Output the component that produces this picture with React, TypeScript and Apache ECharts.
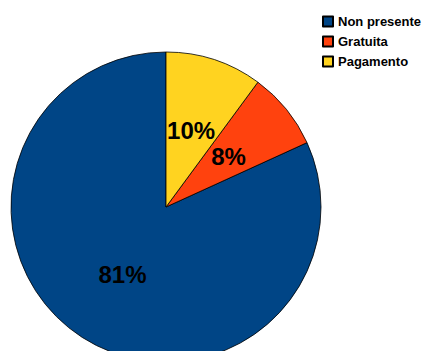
import React, { useEffect, useRef } from "react";
import * as echarts from "echarts";

const categories = ["Non presente", "Gratuita", "Pagamento"];
const values = [81, 8, 10];
const colors = ["#004586", "#FF420E", "#FFD320"];

export default function App() {
  const ref = useRef<HTMLDivElement>(null);
  useEffect(() => {
    document.body.style.margin = "0";
    const chart = echarts.init(ref.current!, null, { renderer: "svg" });
    chart.setOption({
      animation: false,
      backgroundColor: "#ffffff",
      legend: {
        orient: "vertical",
        left: 322,
        top: 15,
        padding: 0,
        itemWidth: 10,
        itemHeight: 10,
        itemGap: 7,
        icon: "rect",
        textStyle: {
          fontFamily: "Liberation Sans, Arial, sans-serif",
          fontWeight: "bold",
          fontSize: 13,
          lineHeight: 13,
          color: "#000",
        },
        data: categories,
      },
      series: [
        {
          type: "pie",
          center: [166, 207],
          radius: [0, 155],
          startAngle: 90,
          clockwise: false,
          avoidLabelOverlap: false,
          itemStyle: { borderColor: "#000", borderWidth: 0.8 },
          label: {
            show: true,
            position: "inside",
            formatter: "{c}%",
            fontFamily: "Liberation Sans, Arial, sans-serif",
            fontWeight: "bold",
            fontSize: 24,
            color: "#000",
            textBorderWidth: 0,
          },
          labelLine: { show: false },
          emphasis: { disabled: true },
          data: categories.map((name, i) => ({
            name,
            value: values[i],
            itemStyle: { color: colors[i] },
          })),
        },
      ],
    });
    return () => chart.dispose();
  }, []);
  return <div ref={ref} style={{ width: 426, height: 351 }} />;
}
